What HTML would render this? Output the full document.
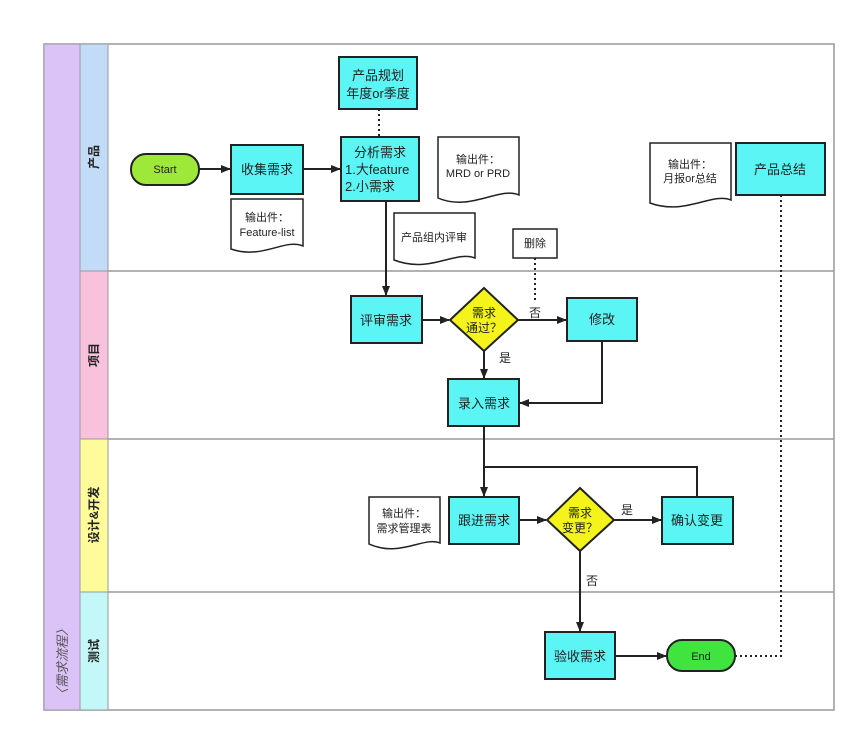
<!DOCTYPE html>
<html><head><meta charset="utf-8"><style>
html,body{margin:0;padding:0;background:#fff;}
svg{display:block;font-family:"Liberation Sans","Noto Sans CJK SC",sans-serif;}
</style></head><body>
<svg width="864" height="740" viewBox="0 0 864 740" xmlns="http://www.w3.org/2000/svg">
<defs>
<marker id="a" markerWidth="10" markerHeight="8" refX="9" refY="4" orient="auto" markerUnits="userSpaceOnUse">
<path d="M0,0 L10,4 L0,8 Z" fill="#222"/></marker>
</defs>
<!-- frame -->
<rect x="44" y="44" width="790" height="666" fill="#fff" stroke="#999" stroke-width="1.5"/>
<rect x="44" y="44" width="36" height="666" fill="#dcc3f7" stroke="#999" stroke-width="1"/>
<rect x="80" y="44" width="28" height="227" fill="#c2dcf7" stroke="#999"/>
<rect x="80" y="271" width="28" height="168" fill="#f8c2dc" stroke="#999"/>
<rect x="80" y="439" width="28" height="153" fill="#fdfb9a" stroke="#999"/>
<rect x="80" y="592" width="28" height="118" fill="#c4f7f7" stroke="#999"/>
<line x1="108" y1="271" x2="834" y2="271" stroke="#999" stroke-width="1.5"/>
<line x1="108" y1="439" x2="834" y2="439" stroke="#999" stroke-width="1.5"/>
<line x1="108" y1="592" x2="834" y2="592" stroke="#999" stroke-width="1.5"/>
<g font-size="12" font-weight="bold" fill="#222" text-anchor="middle">
<text transform="translate(98,157) rotate(-90)">产品</text>
<text transform="translate(98,355) rotate(-90)">项目</text>
<text transform="translate(98,515) rotate(-90)">设计&amp;开发</text>
<text transform="translate(98,651) rotate(-90)">测试</text>
</g>
<text transform="translate(67,662) rotate(-90)" font-size="13" font-style="italic" fill="#555" text-anchor="middle">〈需求流程〉</text>

<g stroke="#222" stroke-width="2" fill="#5cf5f5">
<rect x="339" y="57" width="78" height="52"/>
<rect x="341" y="137" width="78" height="64"/>
<rect x="231" y="145" width="72" height="49"/>
<rect x="351" y="296" width="71" height="47"/>
<rect x="567" y="298" width="70" height="43"/>
<rect x="448" y="379" width="71" height="47"/>
<rect x="449" y="497" width="70" height="47"/>
<rect x="662" y="497" width="71" height="47"/>
<rect x="545" y="632" width="70" height="47"/>
<rect x="736" y="143" width="89" height="52"/>
<rect x="131" y="154" width="68" height="31" rx="15" fill="#9ee83a"/>
<rect x="667" y="640" width="68" height="31" rx="15" fill="#3fe43f"/>
<polygon points="484,288 518,320 484,351 450,320" fill="#f4f41c"/>
<polygon points="580,488 614,520 580,551 547,520" fill="#f4f41c"/>
</g>
<g stroke="#222" stroke-width="1.5" fill="#fff">
<path d="M231 199 H303 V246 C285 238,262 260,231 249 Z"/>
<path d="M438 137 H519 V195 C500 186,470 212,438 198 Z"/>
<path d="M394 213 H475 V258 C455 250,430 274,394 260 Z"/>
<path d="M650 143 H731 V200 C712 192,685 216,650 203 Z"/>
<path d="M369 497 H440 V543 C424 536,400 558,369 544 Z"/>
<rect x="513" y="229" width="44" height="29"/>
</g>
<!-- connectors -->
<g stroke="#222" stroke-width="2" fill="none">
<line x1="199" y1="169" x2="230" y2="169" marker-end="url(#a)"/>
<line x1="303" y1="169" x2="340" y2="169" marker-end="url(#a)"/>
<line x1="386" y1="201" x2="386" y2="295" marker-end="url(#a)"/>
<line x1="422" y1="320" x2="449" y2="320" marker-end="url(#a)"/>
<line x1="518" y1="320" x2="566" y2="320" marker-end="url(#a)"/>
<line x1="484" y1="351" x2="484" y2="378" marker-end="url(#a)"/>
<polyline points="602,341 602,403 520,403" marker-end="url(#a)"/>
<line x1="484" y1="426" x2="484" y2="496" marker-end="url(#a)"/>
<polyline points="484,467 697,467 697,497"/>
<line x1="519" y1="520" x2="546" y2="520" marker-end="url(#a)"/>
<line x1="614" y1="520" x2="661" y2="520" marker-end="url(#a)"/>
<line x1="580" y1="551" x2="580" y2="631" marker-end="url(#a)"/>
<line x1="615" y1="656" x2="666" y2="656" marker-end="url(#a)"/>
</g>
<g stroke="#222" stroke-width="2" fill="none" stroke-dasharray="2,3">
<line x1="379" y1="109" x2="379" y2="137"/>
<line x1="535" y1="258" x2="535" y2="300"/>
<polyline points="735,656 781,656 781,196"/>
</g>
<!-- text -->
<g font-size="13" fill="#222" text-anchor="middle">
<text x="378" y="80">产品规划</text><text x="378" y="98">年度or季度</text>
<text x="380" y="157">分析需求</text>
<text x="345" y="174" text-anchor="start">1.大feature</text>
<text x="345" y="191" text-anchor="start">2.小需求</text>
<text x="267" y="174">收集需求</text>
<text x="165" y="173" font-size="11">Start</text>
<text x="701" y="660" font-size="11">End</text>
<text x="386" y="325">评审需求</text>
<text x="602" y="324">修改</text>
<text x="484" y="408">录入需求</text>
<text x="484" y="525">跟进需求</text>
<text x="697" y="525">确认变更</text>
<text x="580" y="661">验收需求</text>
<text x="780" y="174">产品总结</text>
<text x="484" y="317" font-size="12">需求</text><text x="484" y="332" font-size="12">通过？</text>
<text x="580" y="517" font-size="12">需求</text><text x="580" y="532" font-size="12">变更？</text>
<text x="535" y="317" font-size="12">否</text>
<text x="505" y="362" font-size="12">是</text>
<text x="627" y="514" font-size="12">是</text>
<text x="592" y="585" font-size="12">否</text>
<g font-size="11">
<text x="267" y="221">输出件：</text><text x="267" y="236">Feature-list</text>
<text x="478" y="163">输出件：</text><text x="478" y="177">MRD or PRD</text>
<text x="434" y="241">产品组内评审</text>
<text x="690" y="168">输出件：</text><text x="690" y="182">月报or总结</text>
<text x="404" y="517">输出件：</text><text x="404" y="532">需求管理表</text>
<text x="535" y="247">删除</text>
</g>
</g>
</svg>
</body></html>
